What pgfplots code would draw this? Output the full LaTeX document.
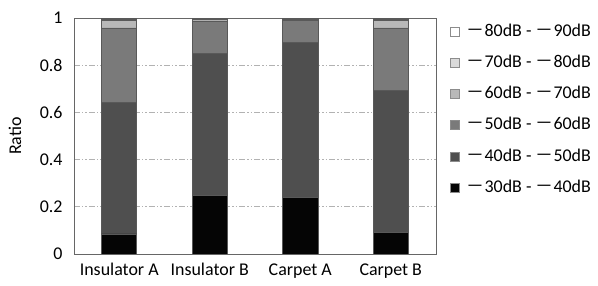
\documentclass[border=0pt]{standalone}
\usepackage{fontspec}
\setmainfont{Carlito}
\newfontfamily\cjk{Noto Sans CJK JP}
\usepackage{pgfplots}
\pgfplotsset{compat=1.18}
\definecolor{cA}{HTML}{050505}
\definecolor{cB}{HTML}{4F4F4F}
\definecolor{cC}{HTML}{7A7A7A}
\definecolor{cD}{HTML}{B8B8B8}
\definecolor{cE}{HTML}{DADADA}
\definecolor{cF}{HTML}{FFFFFF}
\newcommand{\m}{{\cjk －}}
\newcommand{\e}{\hspace{5bp}{\cjk －}}
\begin{document}
\begin{tikzpicture}
\begin{axis}[
  scale only axis, width=362bp, height=236bp,
  ybar stacked, bar width=35bp,
  xmin=-0.5, xmax=3.5, ymin=0, ymax=1,
  xtick={0,1,2,3},
  xticklabels={Insulator A,Insulator B,Carpet A,Carpet B},
  ytick={0,0.2,0.4,0.6,0.8,1},
  yticklabels={0,0.2,0.4,0.6,0.8,1},
  major tick length=0pt,
  tick label style={font=\fontsize{18}{21}\selectfont},
  xticklabel style={yshift=-6bp},
  yticklabel style={xshift=-8bp},
  ylabel={Ratio},
  ylabel style={font=\fontsize{18}{21}\selectfont, at={(axis description cs:-0.163,0.5)}, anchor=center},
  axis line style={black!60, line width=0.8bp},
  ymajorgrids, grid style={black!30, line width=0.8bp, dash pattern=on 6bp off 2bp on 1.5bp off 2bp on 1.5bp off 2bp},
  every axis plot/.append style={draw=black!65, line width=0.5bp},
  legend style={at={(1,1)}, anchor=north west, xshift=14bp, yshift=-5.5bp, draw=none, fill=none,
    font=\fontsize{18}{21}\selectfont, row sep=14.6bp, inner sep=0pt,
    cells={anchor=west, inner sep=0pt, text height=11bp, text depth=4bp}},
  reverse legend,
  legend image code/.code={\draw[#1, draw=black!45, line width=0.5bp] (0bp,-4.5bp) rectangle (9bp,4.5bp);},
]
\addplot[fill=cA] coordinates {(0,0.085) (1,0.248) (2,0.241) (3,0.092)};
\addplot[fill=cB] coordinates {(0,0.559) (1,0.601) (2,0.657) (3,0.600)};
\addplot[fill=cC] coordinates {(0,0.314) (1,0.139) (2,0.092) (3,0.266)};
\addplot[fill=cD] coordinates {(0,0.032) (1,0.007) (2,0.005) (3,0.032)};
\addplot[fill=cE] coordinates {(0,0.005) (1,0.003) (2,0.003) (3,0.005)};
\addplot[fill=cF] coordinates {(0,0.005) (1,0.002) (2,0.002) (3,0.005)};
\legend{\e30dB - \m40dB, \e40dB - \m50dB, \e50dB - \m60dB, \e60dB - \m70dB, \e70dB - \m80dB, \e80dB - \m90dB}
\end{axis}
\pgfresetboundingbox
\path[use as bounding box] ([shift={(-74bp,-32bp)}]current axis.south west) rectangle ([shift={(524bp,254bp)}]current axis.south west);
\end{tikzpicture}
\end{document}
